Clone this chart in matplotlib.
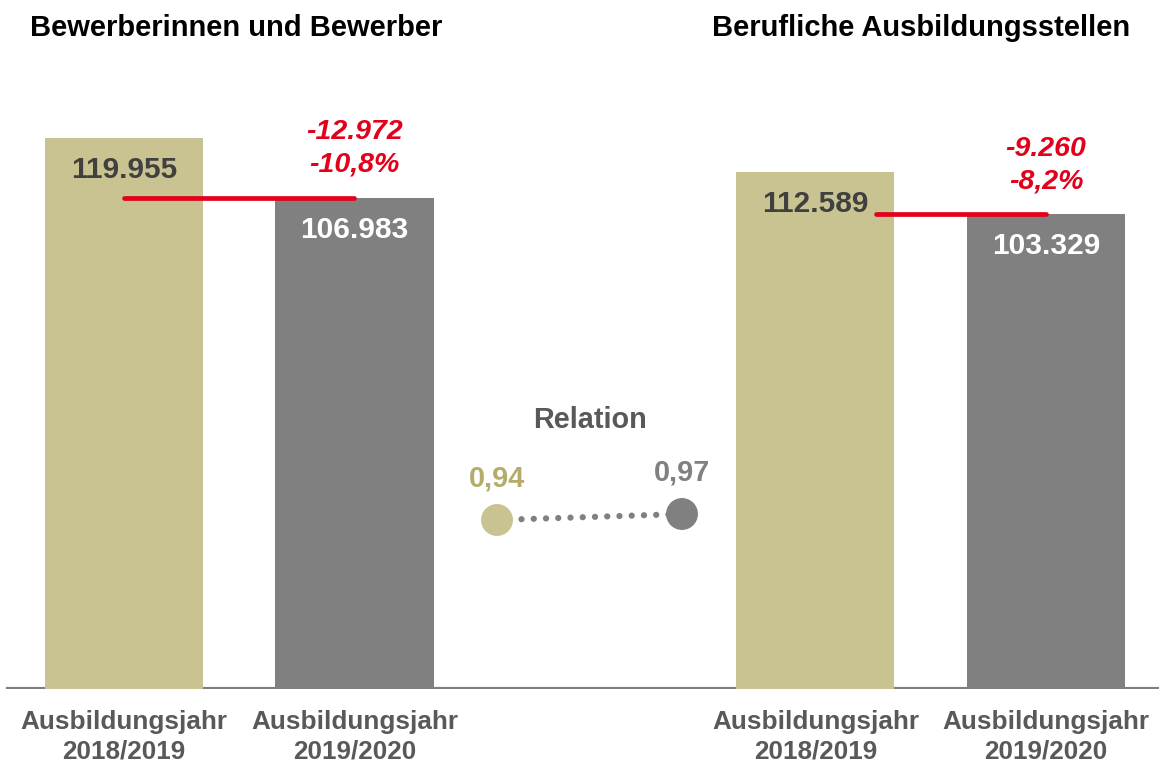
import numpy as np
import matplotlib.pyplot as plt

plt.rcParams['font.family'] = ['Liberation Sans', 'DejaVu Sans']
plt.rcParams['font.weight'] = 'bold'

# data
years = ['Ausbildungsjahr\n2018/2019', 'Ausbildungsjahr\n2019/2020',
         'Ausbildungsjahr\n2018/2019', 'Ausbildungsjahr\n2019/2020']
bewerber = [119955, 106983]
stellen = [112589, 103329]
relation = [0.94, 0.97]

tan = '#C9C391'
grey = '#808080'
red = '#E3001B'
dark = '#404040'
label_grey = '#595959'

def de(n):
    return f'{n:,}'.replace(',', '.')

fig = plt.figure(figsize=(11.59, 7.65), dpi=100)
W, H = 1159, 765
base = 689
ax = fig.add_axes([0, (H - base) / H, 1, base / H])
px = 230.5
ax.set_xlim(-124 / px, (W - 124) / px)
ax.set_ylim(0, base / 551 * bewerber[0])

pos = [0, 1, 3, 4]
vals = bewerber + stellen
cols = [tan, grey, tan, grey]
ax.bar(pos, vals, width=158 / px, color=cols, zorder=3)
ax.axhline(0, xmin=8 / W, xmax=1, color='#7F7F7F', lw=3, zorder=2)

for p, v, tc in zip(pos, vals, [dark, 'white', dark, 'white']):
    ax.annotate(de(v), (p, v), xytext=(0, -23), textcoords='offset points',
                ha='center', va='center', fontsize=21.5, color=tc, zorder=5)

# change lines
for (a, b), x0, x1 in [(bewerber, 0, 1), (stellen, 3.263, 4)]:
    ax.plot([x0, x1], [b, b], color=red, lw=3.4, solid_capstyle='round', zorder=4)
    d = b - a
    pct = f'{d / a * 100:.1f}%'.replace('.', ',')
    ax.annotate(de(d), (x1, b), xytext=(0, 47), textcoords='offset points',
                ha='center', va='center', fontsize=20.5, color=red, style='italic')
    ax.annotate(pct, (x1, b), xytext=(0, 24), textcoords='offset points',
                ha='center', va='center', fontsize=20.5, color=red, style='italic')

ax.set_xticks(pos, years, fontsize=18.8, color=label_grey, linespacing=1.3)
ax.tick_params(axis='x', length=0, pad=15)
ax.set_yticks([])
for s in ax.spines.values():
    s.set_visible(False)

# relation
ax2 = ax.twinx()
ax2.set_ylim(0.095, 3.54)
rx = [(497 - 124) / px, (682 - 124) / px]
ax2.plot(rx, relation, color=grey, lw=4.5, linestyle=(0, (0.01, 1.95)),
         dash_capstyle='round', zorder=2)
ax2.scatter(rx, relation, s=23 ** 2, color=[tan, grey], zorder=3, linewidths=0)
for x, v, c in zip(rx, relation, ['#B3AC6B', grey]):
    ax2.annotate(f'{v:.2f}'.replace('.', ','), (x, v), xytext=(0, 30),
                 textcoords='offset points', ha='center', va='center',
                 fontsize=20.8, color=c)
ax2.set_yticks([])
for s in ax2.spines.values():
    s.set_visible(False)
ax2.patch.set_visible(False)

fig.text(590 / W, 1 - 420 / H, 'Relation', ha='center', va='center',
         fontsize=20.8, color=label_grey)
fig.text(30 / W, 1 - 28 / H, 'Bewerberinnen und Bewerber', ha='left',
         va='center', fontsize=21, color='black')
fig.text(1130 / W, 1 - 28 / H, 'Berufliche Ausbildungsstellen', ha='right',
         va='center', fontsize=21, color='black')

fig.savefig('out.png', dpi=100)
